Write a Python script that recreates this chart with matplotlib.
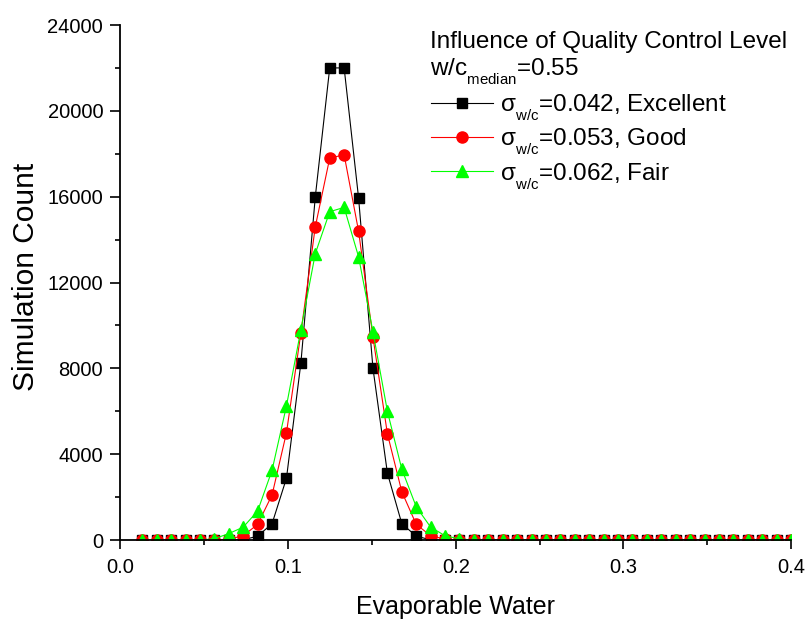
import numpy as np
import matplotlib
matplotlib.use("Agg")
import matplotlib.pyplot as plt
import matplotlib._mathtext as mtext
from matplotlib.ticker import MultipleLocator, FormatStrFormatter

plt.rcParams['font.family'] = ['Liberation Sans', 'DejaVu Sans']
plt.rcParams['mathtext.fontset'] = 'custom'
plt.rcParams['mathtext.rm'] = 'Liberation Sans'
plt.rcParams['mathtext.it'] = 'Liberation Sans'
plt.rcParams['mathtext.default'] = 'regular'
# Origin draws subscripts smaller and lower than mathtext does
mtext.SHRINK_FACTOR = 0.62
mtext.FontConstantsBase.sub1 = 0.75

# evaporable water bins
water = [0.0130, 0.0216, 0.0302, 0.0388, 0.0474, 0.0560, 0.0646, 0.0732, 0.0818, 0.0904,
         0.0990, 0.1076, 0.1162, 0.1248, 0.1334, 0.1420, 0.1506, 0.1592, 0.1678, 0.1764,
         0.1850, 0.1936, 0.2022, 0.2108, 0.2194, 0.2280, 0.2366, 0.2452, 0.2538, 0.2624,
         0.2710, 0.2796, 0.2882, 0.2968, 0.3054, 0.3140, 0.3226, 0.3312, 0.3398, 0.3484,
         0.3570, 0.3656, 0.3742, 0.3828, 0.3914, 0.4000]

excellent = [0, 0, 0, 0, 0, 0, 0, 10, 180, 760,
             2880, 8250, 16000, 22000, 22000, 15950, 8000, 3120, 760, 180,
             10, 0, 0, 0, 0, 0, 0, 0, 0, 0,
             0, 0, 0, 0, 0, 0, 0, 0, 0, 0,
             0, 0, 0, 0, 0, 0]
good = [0, 0, 0, 0, 0, 0, 40, 200, 730, 2100,
        5000, 9650, 14600, 17800, 17950, 14400, 9450, 4950, 2250, 730,
        200, 40, 0, 0, 0, 0, 0, 0, 0, 0,
        0, 0, 0, 0, 0, 0, 0, 0, 0, 0,
        0, 0, 0, 0, 0, 0]
fair = [0, 0, 0, 0, 0, 60, 300, 600, 1350, 3250,
        6250, 9800, 13350, 15300, 15500, 13200, 9700, 6000, 3300, 1550,
        600, 200, 50, 0, 0, 0, 0, 0, 0, 0,
        0, 0, 0, 0, 0, 0, 0, 0, 0, 0,
        0, 0, 0, 0, 0, 0]

labels = [r'$\sigma_{w/c}$=0.042, Excellent',
          r'$\sigma_{w/c}$=0.053, Good',
          r'$\sigma_{w/c}$=0.062, Fair']
title1 = 'Influence of Quality Control Level'
title2 = r'w/c$_{median}$=0.55'

fig = plt.figure(figsize=(8.06, 6.22), dpi=100)
ax = fig.add_axes([0.1495, 0.1318, 0.832, 0.828])

ax.plot(water, excellent, '-s', color='black', lw=0.8, ms=7.5, label=labels[0])
ax.plot(water, good, '-o', color='red', lw=0.8, ms=8, label=labels[1])
ax.plot(water, fair, '-^', color='#00ff00', lw=0.8, ms=9, label=labels[2])

ax.set_xlim(0, 0.4)
ax.set_ylim(0, 24000)
ax.xaxis.set_major_locator(MultipleLocator(0.1))
ax.xaxis.set_minor_locator(MultipleLocator(0.05))
ax.xaxis.set_major_formatter(FormatStrFormatter('%.1f'))
ax.yaxis.set_major_locator(MultipleLocator(4000))
ax.yaxis.set_minor_locator(MultipleLocator(2000))

for s in ['top', 'right']:
    ax.spines[s].set_visible(False)
for s in ['left', 'bottom']:
    ax.spines[s].set_linewidth(1.3)
ax.tick_params(which='major', direction='out', width=1.2, labelsize=14.5)
ax.tick_params(axis='x', which='major', length=6.7, pad=6)
ax.tick_params(axis='y', which='major', length=7, pad=5.5)
ax.tick_params(which='minor', direction='out', length=3.5, width=1.2)

ax.set_xlabel('Evaporable Water', fontsize=18, labelpad=13)
ax.set_ylabel('Simulation Count', fontsize=21.5)
ax.yaxis.set_label_coords(-0.12, 0.51)

fig.text(0.5335, 0.9228, title1, fontsize=17.5, va='baseline')
fig.text(0.5335, 0.8794, title2, fontsize=17.5, va='baseline')

leg = ax.legend(loc='upper left', bbox_to_anchor=(0.535, 0.8515), bbox_transform=fig.transFigure,
                frameon=False, fontsize=17.5, handlelength=2.55, handletextpad=0.3,
                labelspacing=0.145, borderpad=0, borderaxespad=0)

fig.savefig('out.png', dpi=100)
